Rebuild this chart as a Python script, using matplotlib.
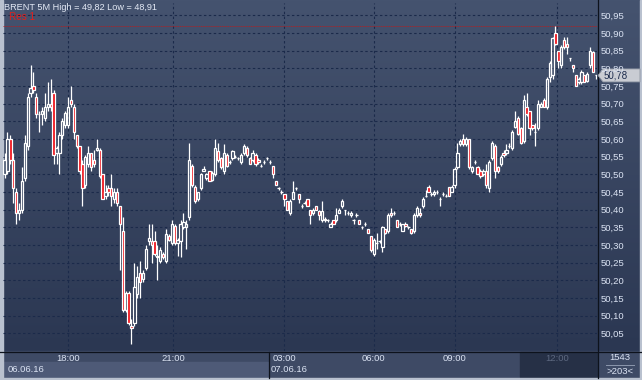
import numpy as np
import matplotlib
matplotlib.use("Agg")
import matplotlib.pyplot as plt
from matplotlib.patches import Rectangle, Polygon
from matplotlib.colors import LinearSegmentedColormap

# BRENT 5M candles
opens = [
    50.50, 50.51, 50.60, 50.54, 50.45, 50.39, 50.40, 50.49, 50.58, 50.73,
    50.75, 50.72, 50.67, 50.67, 50.66, 50.69, 50.70, 50.73, 50.56, 50.56,
    50.61, 50.64, 50.64, 50.71, 50.69, 50.61, 50.58, 50.53, 50.47, 50.53,
    50.56, 50.54, 50.57, 50.57, 50.50, 50.44, 50.46, 50.46,
    50.43, 50.45, 50.41, 50.34, 50.115, 50.165, 50.07, 50.08, 50.16, 50.22,
    50.205, 50.235, 50.31, 50.31, 50.31, 50.27, 50.255, 50.275, 50.255, 50.325,
    50.305, 50.355, 50.305, 50.31, 50.35, 50.35, 50.38, 50.525, 50.465, 50.43,
    50.46, 50.51, 50.49, 50.51, 50.485, 50.50, 50.565, 50.545, 50.51, 50.555,
    50.535, 50.545, 50.55, 50.545, 50.535, 50.56, 50.575, 50.545, 50.54, 50.555,
    50.54, 50.525, 50.535, 50.545, 50.535, 50.525, 50.48, 50.46, 50.45, 50.445,
    50.425, 50.39, 50.43, 50.46, 50.445, 50.41, 50.42, 50.43, 50.40, 50.39,
    50.41, 50.395, 50.37, 50.375, 50.37, 50.35, 50.37, 50.37, 50.39, 50.41,
    50.40, 50.39, 50.385, 50.37, 50.385, 50.37, 50.35, 50.36, 50.345, 50.325,
    50.275, 50.305, 50.31, 50.295, 50.345, 50.34, 50.39, 50.39, 50.37, 50.36,
    50.34, 50.36, 50.35, 50.345, 50.34, 50.385, 50.39, 50.41, 50.44, 50.465, 50.445, 50.445,
    50.45, 50.43, 50.445, 50.44, 50.465, 50.45, 50.47, 50.52, 50.585, 50.60, 50.585,
    50.60, 50.51, 50.535, 50.52, 50.51, 50.50, 50.51, 50.46, 50.545, 50.58,
    50.52, 50.53, 50.56, 50.56, 50.58, 50.575, 50.635, 50.66, 50.63, 50.595,
    50.69, 50.68, 50.64, 50.62, 50.63, 50.69, 50.71, 50.69, 50.775, 50.78,
    50.90, 50.85, 50.81, 50.88, 50.87, 50.83, 50.81, 50.78, 50.76, 50.76,
    50.78, 50.765, 50.81, 50.845, 50.78,
]
highs = [
    50.56, 50.62, 50.61, 50.56, 50.46, 50.42, 50.52, 50.61, 50.73, 50.81,
    50.79, 50.73, 50.68, 50.69, 50.73, 50.76, 50.77, 50.74, 50.58, 50.62,
    50.66, 50.68, 50.72, 50.75, 50.70, 50.61, 50.58, 50.54, 50.555, 50.58,
    50.56, 50.57, 50.60, 50.575, 50.50, 50.47, 50.47, 50.50,
    50.46, 50.46, 50.41, 50.38, 50.17, 50.17, 50.09, 50.25, 50.24, 50.255,
    50.23, 50.30, 50.36, 50.36, 50.34, 50.30, 50.295, 50.28, 50.345, 50.33,
    50.37, 50.36, 50.32, 50.37, 50.39, 50.37, 50.59, 50.53, 50.47, 50.45,
    50.505, 50.525, 50.505, 50.51, 50.51, 50.60, 50.59, 50.55, 50.585, 50.56,
    50.54, 50.57, 50.555, 50.55, 50.56, 50.585, 50.58, 50.55, 50.57, 50.56,
    50.545, 50.53, 50.54, 50.55, 50.54, 50.525, 50.48, 50.465, 50.455, 50.445,
    50.425, 50.43, 50.48, 50.465, 50.445, 50.415, 50.425, 50.43, 50.40, 50.405,
    50.41, 50.40, 50.425, 50.38, 50.375, 50.365, 50.37, 50.405, 50.405, 50.43,
    50.40, 50.395, 50.395, 50.375, 50.39, 50.37, 50.355, 50.365, 50.345, 50.325,
    50.32, 50.335, 50.315, 50.355, 50.345, 50.39, 50.405, 50.395, 50.37, 50.365,
    50.36, 50.365, 50.355, 50.345, 50.39, 50.41, 50.405, 50.435, 50.455, 50.47, 50.45, 50.455,
    50.455, 50.435, 50.45, 50.445, 50.465, 50.47, 50.52, 50.59, 50.60, 50.615, 50.605,
    50.60, 50.525, 50.54, 50.525, 50.515, 50.515, 50.53, 50.54, 50.595, 50.585,
    50.525, 50.555, 50.57, 50.585, 50.59, 50.625, 50.68, 50.665, 50.635, 50.725,
    50.73, 50.68, 50.64, 50.645, 50.71, 50.705, 50.715, 50.775, 50.82, 50.89,
    50.92, 50.85, 50.865, 50.89, 50.89, 50.83, 50.81, 50.78, 50.775, 50.795,
    50.78, 50.79, 50.86, 50.85, 50.78,
]
lows = [
    50.49, 50.50, 50.53, 50.42, 50.36, 50.37, 50.39, 50.48, 50.57, 50.72,
    50.73, 50.66, 50.62, 50.64, 50.65, 50.68, 50.68, 50.53, 50.53, 50.50,
    50.60, 50.63, 50.63, 50.69, 50.60, 50.575, 50.50, 50.41, 50.46, 50.52,
    50.51, 50.52, 50.565, 50.49, 50.43, 50.43, 50.44, 50.41,
    50.42, 50.41, 50.23, 50.11, 50.11, 50.075, 50.02, 50.07, 50.15, 50.15,
    50.195, 50.23, 50.30, 50.25, 50.27, 50.20, 50.25, 50.26, 50.25, 50.31,
    50.30, 50.30, 50.27, 50.265, 50.345, 50.29, 50.37, 50.465, 50.42, 50.425,
    50.455, 50.51, 50.485, 50.48, 50.48, 50.495, 50.535, 50.515, 50.50, 50.52,
    50.53, 50.54, 50.545, 50.54, 50.53, 50.555, 50.55, 50.53, 50.535, 50.525,
    50.53, 50.52, 50.53, 50.54, 50.53, 50.49, 50.47, 50.455, 50.445, 50.41,
    50.40, 50.385, 50.43, 50.455, 50.42, 50.405, 50.415, 50.41, 50.36, 50.385,
    50.40, 50.37, 50.365, 50.365, 50.365, 50.35, 50.36, 50.365, 50.39, 50.405,
    50.385, 50.385, 50.38, 50.36, 50.38, 50.36, 50.345, 50.355, 50.335, 50.28,
    50.27, 50.29, 50.305, 50.28, 50.33, 50.335, 50.38, 50.385, 50.35, 50.355,
    50.34, 50.35, 50.345, 50.33, 50.335, 50.38, 50.38, 50.405, 50.435, 50.45, 50.44, 50.44,
    50.445, 50.41, 50.44, 50.435, 50.44, 50.45, 50.46, 50.515, 50.58, 50.58, 50.58,
    50.515, 50.505, 50.53, 50.50, 50.49, 50.495, 50.46, 50.45, 50.54, 50.49,
    50.505, 50.525, 50.55, 50.555, 50.575, 50.57, 50.63, 50.61, 50.585, 50.59,
    50.665, 50.61, 50.625, 50.58, 50.625, 50.69, 50.69, 50.685, 50.76, 50.77,
    50.865, 50.80, 50.80, 50.855, 50.84, 50.82, 50.79, 50.75, 50.755, 50.755,
    50.76, 50.76, 50.80, 50.79, 50.77,
]
closes = [
    50.54, 50.60, 50.54, 50.46, 50.39, 50.40, 50.48, 50.59, 50.72, 50.745,
    50.74, 50.67, 50.67, 50.68, 50.69, 50.70, 50.69, 50.555, 50.575, 50.61,
    50.65, 50.675, 50.69, 50.70, 50.62, 50.58, 50.51, 50.46, 50.55, 50.56,
    50.52, 50.53, 50.575, 50.495, 50.43, 50.45, 50.45, 50.44,
    50.45, 50.42, 50.36, 50.115, 50.165, 50.08, 50.065, 50.18, 50.21, 50.195,
    50.22, 50.29, 50.32, 50.30, 50.275, 50.265, 50.285, 50.265, 50.33, 50.315,
    50.36, 50.305, 50.315, 50.36, 50.365, 50.36, 50.54, 50.47, 50.425, 50.45,
    50.50, 50.515, 50.50, 50.48, 50.505, 50.575, 50.54, 50.52, 50.56, 50.525,
    50.535, 50.565, 50.55, 50.545, 50.555, 50.58, 50.555, 50.53, 50.56, 50.53,
    50.535, 50.525, 50.535, 50.545, 50.535, 50.50, 50.47, 50.46, 50.45, 50.43,
    50.40, 50.425, 50.45, 50.46, 50.43, 50.41, 50.42, 50.41, 50.385, 50.40,
    50.40, 50.385, 50.395, 50.37, 50.37, 50.36, 50.36, 50.385, 50.40, 50.425,
    50.40, 50.39, 50.39, 50.37, 50.385, 50.36, 50.35, 50.36, 50.335, 50.285,
    50.315, 50.305, 50.31, 50.35, 50.335, 50.385, 50.385, 50.39, 50.35, 50.36,
    50.36, 50.355, 50.35, 50.335, 50.385, 50.405, 50.385, 50.43, 50.44, 50.45, 50.445, 50.45,
    50.45, 50.43, 50.445, 50.44, 50.44, 50.465, 50.515, 50.56, 50.595, 50.585, 50.60,
    50.52, 50.52, 50.535, 50.50, 50.495, 50.51, 50.47, 50.535, 50.59, 50.51,
    50.51, 50.55, 50.555, 50.57, 50.58, 50.62, 50.65, 50.615, 50.59, 50.71,
    50.67, 50.63, 50.63, 50.62, 50.70, 50.70, 50.69, 50.77, 50.815, 50.885,
    50.87, 50.82, 50.86, 50.86, 50.86, 50.83, 50.80, 50.75, 50.77, 50.79,
    50.76, 50.785, 50.85, 50.79, 50.78,
]

price_ticks = [round(50.05 + 0.05 * k, 2) for k in range(19)]
time_ticks = [22, 58.5, 97, 128, 156, 191.5]       # bar index of each time mark
time_labels = ["18:00", "21:00", "03:00", "06:00", "09:00", "12:00"]
date_labels = ["06.06.16", "07.06.16"]
res_level = 50.92
last_price = closes[-1]
bar_total = "1543"
bars_shown = ">203<"

# colours
C_TOP, C_BOT = "#45536f", "#2b3752"
C_GRID = "#1b2a4a"
C_TEXT = "#dbe3f3"
C_RED = "#ee1018"
C_STRIP = "#3e4a65"
FONT = "Liberation Sans"

W, H = 642, 380
fig = plt.figure(figsize=(W / 100, H / 100), dpi=100)

# window chrome in pixel coordinates
bg = fig.add_axes([0, 0, 1, 1])
bg.set_xlim(0, W); bg.set_ylim(H, 0); bg.axis("off")
grad = np.linspace(0, 1, 256).reshape(-1, 1)
bg.imshow(grad, cmap=LinearSegmentedColormap.from_list("bg", [C_TOP, C_BOT]),
          extent=(0, W, 351, 0), aspect="auto")
bg.add_patch(Rectangle((0, 351), W, 29, color=C_STRIP))
bg.add_patch(Rectangle((3, 362), 265, 15, color="#4e5a77"))
bg.add_patch(Rectangle((520, 352), 77, 25, color="#263046"))
bg.plot([0, W], [351.5, 351.5], color="#0d121c", lw=0.9)
bg.plot([597.5, 597.5], [0, 378], color="#0d121c", lw=0.9)
bg.plot([268.5, 268.5], [352, 378], color="#0d121c", lw=0.9)
bg.plot([606, 634], [364.5, 364.5], color="#8c97ad", lw=0.7)
bg.add_patch(Rectangle((0, 0), 2.5, H, color="#b9c1cf"))
bg.add_patch(Rectangle((0, H - 2.5), W, 2.5, color="#b9c1cf"))
bg.add_patch(Rectangle((W - 2, 0), 2, H, color="#b9c1cf"))

# price chart
ax = fig.add_axes([3 / W, 1 - 351 / H, 594 / W, 348 / H])
ax.patch.set_alpha(0)
for s in ax.spines.values():
    s.set_visible(False)

n = len(closes)
x = np.arange(n)
o = np.array(opens); c = np.array(closes)
body_lo = np.minimum(o, c); body_hi = np.maximum(o, c)
ax.vlines(x, body_hi, highs, color="white", lw=0.9, zorder=3)
ax.vlines(x, lows, body_lo, color="white", lw=0.9, zorder=3)
faces = [C_RED if cc < oo else "none" for oo, cc in zip(opens, closes)]
ax.bar(x, body_hi - body_lo, bottom=body_lo, width=0.8, color=faces,
       edgecolor="white", linewidth=0.9, zorder=4)

ax.axhline(res_level, color="#a8242a", lw=0.6, ls=(0, (1.5, 0.8)), zorder=2)

ax.set_xlim(-0.55, n - 0.6)
ax.set_ylim(50.0, 50.985)
ax.set_yticks(price_ticks)
ax.set_yticklabels([f"{p:.2f}".replace(".", ",") for p in price_ticks],
                   fontfamily=FONT)
ax.yaxis.tick_right()
ax.tick_params(axis="y", length=0, pad=2.5, labelsize=6.8, labelcolor=C_TEXT)
ax.set_xticks(time_ticks)
ax.set_xticklabels(time_labels, fontfamily=FONT)
ax.tick_params(axis="x", length=0, pad=2.5, labelsize=6.8, labelcolor=C_TEXT)
ax.get_xticklabels()[-1].set_color("#5d6880")
ax.grid(True, color=C_GRID, linestyle=(0, (2.2, 2.2)), lw=0.8, zorder=1)

# labels in the chrome
fig.text(4 / W, 1 - 8 / H, "BRENT 5M High = 49,82 Low = 48,91", color="#e3e9f5",
         fontsize=6.6, fontfamily=FONT, va="center", ha="left")
fig.text(9 / W, 1 - 17.5 / H, "Res 1", color="#e0201e", fontsize=7.2,
         fontfamily=FONT, va="center", ha="left")
fig.text(8 / W, 1 - 370 / H, date_labels[0], color=C_TEXT, fontsize=6.8,
         fontfamily=FONT, va="center", ha="left")
fig.text(271 / W, 1 - 370 / H, date_labels[1], color=C_TEXT, fontsize=6.8,
         fontfamily=FONT, va="center", ha="left")
fig.text(620 / W, 1 - 358 / H, bar_total, color=C_TEXT, fontsize=6.8,
         fontfamily=FONT, va="center", ha="center")
fig.text(620 / W, 1 - 371 / H, bars_shown, color=C_TEXT, fontsize=6.8,
         fontfamily=FONT, va="center", ha="center")

# current price marker
yp = H - ax.transData.transform((0, last_price))[1]
bg.add_patch(Polygon([(598, yp), (603, yp - 6.5), (640, yp - 6.5), (640, yp + 6.5),
                      (603, yp + 6.5)], closed=True, fc="#c9ccd3", ec="#8f96a3",
                     lw=0.6, zorder=10))
bg.text(604, yp, f"{last_price:.2f}".replace(".", ","), color="#1b2a4c",
        fontsize=7, fontfamily=FONT, va="center", ha="left", zorder=11)

fig.savefig("out.png", dpi=100)
